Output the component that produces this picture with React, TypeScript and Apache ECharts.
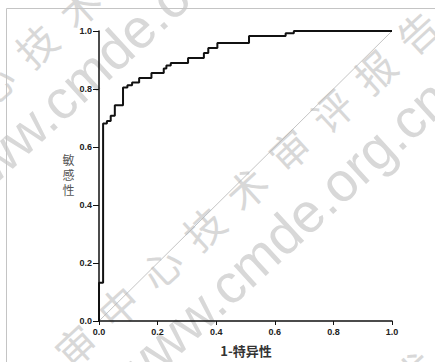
import React, { useEffect, useRef } from "react";
import * as echarts from "echarts";

// ROC curve coordinates (1 - specificity, sensitivity)
const fpr = [
  0, 0, 0.014, 0.014, 0.027, 0.027, 0.04, 0.04, 0.054, 0.054, 0.082, 0.082,
  0.097, 0.097, 0.113, 0.113, 0.137, 0.137, 0.179, 0.179, 0.221, 0.221, 0.23,
  0.23, 0.245, 0.245, 0.304, 0.304, 0.358, 0.358, 0.373, 0.373, 0.404, 0.404,
  0.512, 0.512, 0.637, 0.637, 0.665, 0.665, 1.0,
];
const tpr = [
  0, 0.132, 0.132, 0.681, 0.681, 0.69, 0.69, 0.708, 0.708, 0.744, 0.744, 0.805,
  0.805, 0.813, 0.813, 0.822, 0.822, 0.838, 0.838, 0.855, 0.855, 0.871, 0.871,
  0.881, 0.881, 0.89, 0.89, 0.907, 0.907, 0.924, 0.924, 0.941, 0.941, 0.959,
  0.959, 0.983, 0.983, 0.992, 0.992, 1.0, 1.0,
];
// reference diagonal
const refX = [0, 1];
const refY = [0, 1];

const yAxisName = "敏感性";
const xAxisName = "1-特异性";
const watermarkCn = "审中心技术审评报告";
const watermarkEn = "www.cmde.org.cn";

export default function App() {
  const ref = useRef<HTMLDivElement>(null);
  useEffect(() => {
    const chart = echarts.init(ref.current!, null, { renderer: "svg" });

    const ang = (42.5 * Math.PI) / 180;
    const dx = Math.cos(ang), dy = -Math.sin(ang);
    const nx = Math.sin(ang), ny = Math.cos(ang);
    const wmColor = "#d8d8d8";
    const wm: any[] = [];
    [-248, 0, 248].forEach((o) => {
      Array.from(watermarkCn).forEach((ch, k) => {
        const x = 75 + o * nx + k * 58 * dx;
        const y = 345 + o * ny + k * 58 * dy;
        if (x < -22 || x > 457 || y < -22 || y > 384) return;
        wm.push({
          type: "text",
          z: -10,
          silent: true,
          x,
          y,
          rotation: ang,
          style: {
            text: ch,
            fill: wmColor,
            font: "40px 'Noto Sans CJK SC'",
            textAlign: "center",
            textVerticalAlign: "middle",
          },
        });
      });
    });
    [-250, 0].forEach((o) => {
      wm.push({
        type: "text",
        z: -10,
        silent: true,
        x: 124 + o * nx,
        y: 387 + o * ny,
        rotation: ang,
        style: {
          text: watermarkEn,
          x: 0,
          y: -5,
          fill: wmColor,
          font: "55px 'Liberation Sans'",
          textAlign: "left",
          textVerticalAlign: "middle",
        },
      });
    });

    const labelStyle = {
      fontFamily: "'Liberation Sans', Arial, sans-serif",
      fontWeight: "bold" as const,
      fontSize: 9,
      color: "#222",
    };

    chart.setOption({
      animation: false,
      backgroundColor: "#fff",
      grid: { left: 99, right: 43, top: 31, bottom: 41, containLabel: false },
      xAxis: {
        type: "value",
        min: 0,
        max: 1,
        interval: 0.2,
        axisLine: { show: true, lineStyle: { color: "#111", width: 1.5 } },
        axisTick: { show: true, length: 4, lineStyle: { color: "#111", width: 1 } },
        axisLabel: { ...labelStyle, margin: 6, formatter: (v: number) => v.toFixed(1) },
        splitLine: { show: false },
      },
      yAxis: {
        type: "value",
        min: 0,
        max: 1,
        interval: 0.2,
        axisLine: { show: true, lineStyle: { color: "#111", width: 1.5 } },
        axisTick: { show: true, length: 6, lineStyle: { color: "#111", width: 1 } },
        axisLabel: { ...labelStyle, margin: 7, formatter: (v: number) => v.toFixed(1) },
        splitLine: { show: false },
      },
      graphic: [
        ...wm,
        {
          type: "rect",
          z: -5,
          silent: true,
          shape: { x: 6.5, y: 8.5, width: 700, height: 700 },
          style: { fill: "none", stroke: "#c4c4c4", lineWidth: 1 },
        },
        {
          type: "text",
          z: 10,
          x: 68.5,
          y: 174,
          style: {
            text: Array.from(yAxisName).join("\n"),
            font: "12px 'Noto Sans CJK SC'",
            lineHeight: 15,
            fill: "#555",
            textAlign: "center",
            textVerticalAlign: "middle",
          },
        },
        {
          type: "text",
          z: 10,
          x: 246,
          y: 350,
          style: {
            text: xAxisName,
            font: "bold 13px 'Noto Sans CJK SC'",
            fill: "#333",
            textAlign: "center",
            textVerticalAlign: "middle",
          },
        },
      ],
      series: [
        {
          type: "line",
          silent: true,
          symbol: "none",
          z: 1,
          data: refX.map((x, i) => [x, refY[i]]),
          lineStyle: { color: "#b5b5b5", width: 0.8 },
        },
        {
          type: "line",
          silent: true,
          symbol: "none",
          z: 3,
          data: fpr.map((x, i) => [x, tpr[i]]),
          lineStyle: { color: "#111", width: 2 },
        },
      ],
    });
    return () => chart.dispose();
  }, []);
  return (
    <div
      ref={ref}
      style={{ position: "fixed", left: 0, top: 0, width: 435, height: 362, background: "#fff" }}
    />
  );
}
